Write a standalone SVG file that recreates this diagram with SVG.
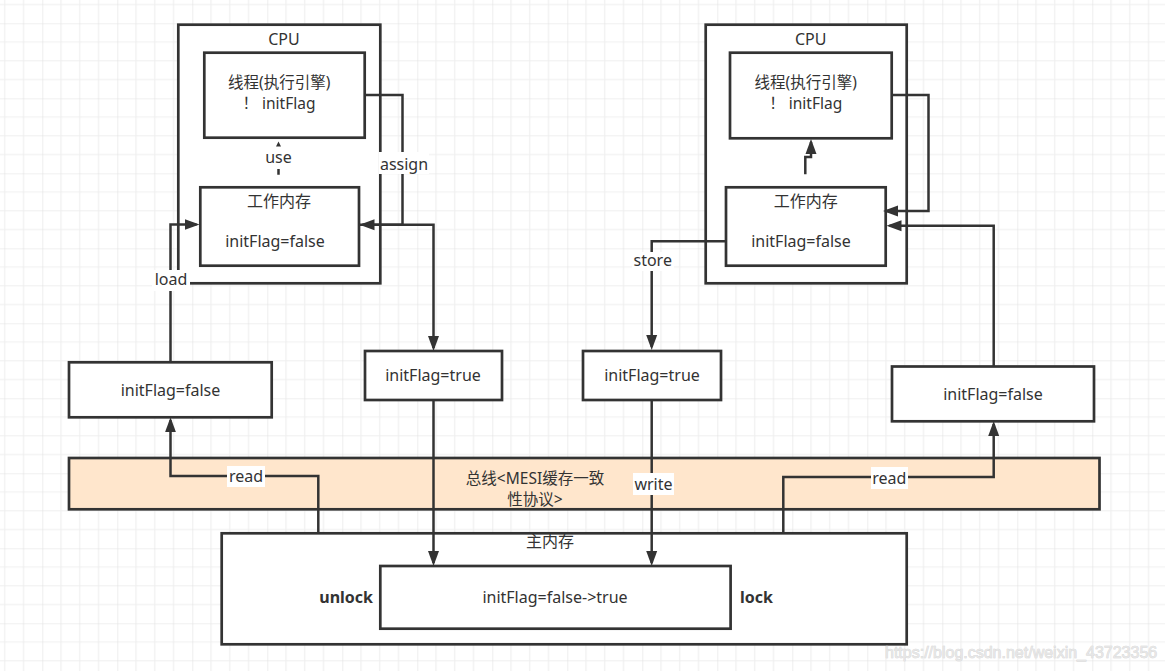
<svg xmlns="http://www.w3.org/2000/svg" width="1165" height="671" viewBox="0 0 1165 671">
  <defs>
    <pattern id="grid" patternUnits="userSpaceOnUse" x="42.3" y="23.3" width="75" height="75">
      <path d="M18.75 0V75M37.5 0V75M56.25 0V75M0 18.75H75M0 37.5H75M0 56.25H75" stroke="#efefef" stroke-width="1.2" fill="none"/>
      <path d="M0 0V75M0 0H75" stroke="#e2e2e2" stroke-width="1.2" fill="none"/>
    </pattern>
    <marker id="arr" markerUnits="userSpaceOnUse" markerWidth="16" markerHeight="12" refX="12" refY="6" orient="auto">
      <path d="M0 0.5L15 6L0 11.5Z" fill="#333333"/>
    </marker>
    <marker id="arrs" markerUnits="userSpaceOnUse" markerWidth="6" markerHeight="6" refX="4" refY="3" orient="auto">
      <path d="M0 0.5L5 3L0 5.5Z" fill="#333333"/>
    </marker>
  </defs>
  <style>
    .box { fill: #ffffff; stroke: #333333; stroke-width: 2.7; }
    .bus { fill: #ffe6cc; stroke: #333333; stroke-width: 2.7; }
    .t { font-family: "Noto Sans", "Noto Sans CJK SC", sans-serif; font-size: 16px; fill: #333333; text-anchor: middle; }
    .m { font-size: 15.5px; }
    .b { font-weight: bold; }
    .c { fill: none; stroke: #333333; stroke-width: 2.5; marker-end: url(#arr); }
    .lbg { fill: #ffffff; }
    .wm { font-family: "Liberation Sans", Arial, sans-serif; font-size: 16px; fill: #e6e6e6; stroke: #d0d0d0; stroke-width: 0.6; paint-order: stroke; }
  </style>

  <rect x="0" y="0" width="1165" height="671" fill="#ffffff"/>
  <rect x="0" y="0" width="1165" height="671" fill="url(#grid)"/>

  <g id="bus">
    <rect class="bus" x="69" y="458" width="1030.5" height="51.3"/>
    <text class="t m" x="535" y="484">总线&lt;MESI缓存一致<tspan x="535" y="505">性协议&gt;</tspan></text>
  </g>

  <g id="cpu-left">
    <rect class="box" x="178.3" y="24.7" width="202" height="258.6"/>
    <text class="t" x="284" y="44.5">CPU</text>
  </g>
  <g id="thread-left">
    <rect class="box" x="204.3" y="52.7" width="160.4" height="85"/>
    <text class="t m" x="279.2" y="87.5">线程(执行引擎)<tspan x="279" y="108.5">！ initFlag</tspan></text>
  </g>
  <g id="workmem-left">
    <rect class="box" x="200.3" y="187.3" width="158.7" height="78.4"/>
    <text class="t" x="279" y="207">工作内存</text>
    <text class="t" x="275" y="246.7">initFlag=false</text>
  </g>

  <g id="cpu-right">
    <rect class="box" x="705.7" y="24.7" width="201" height="258.6"/>
    <text class="t" x="810.7" y="44.5">CPU</text>
  </g>
  <g id="thread-right">
    <rect class="box" x="730" y="52.7" width="161.7" height="85.6"/>
    <text class="t m" x="805.7" y="87.5">线程(执行引擎)<tspan x="805.7" y="108.5">！ initFlag</tspan></text>
  </g>
  <g id="workmem-right">
    <rect class="box" x="726" y="187.3" width="159.7" height="78.4"/>
    <text class="t" x="805.7" y="207">工作内存</text>
    <text class="t" x="801" y="246.7">initFlag=false</text>
  </g>

  <g id="bus-left-false">
    <rect class="box" x="69" y="362.3" width="202.7" height="55"/>
    <text class="t" x="170.5" y="395.7">initFlag=false</text>
  </g>
  <g id="bus-left-true">
    <rect class="box" x="365" y="351" width="137" height="49"/>
    <text class="t" x="433" y="380.7">initFlag=true</text>
  </g>
  <g id="bus-right-true">
    <rect class="box" x="583" y="351" width="138" height="49"/>
    <text class="t" x="652" y="381">initFlag=true</text>
  </g>
  <g id="bus-right-false">
    <rect class="box" x="892" y="366.5" width="202" height="54.8"/>
    <text class="t" x="993" y="400">initFlag=false</text>
  </g>

  <g id="main-memory">
    <rect class="box" x="221.7" y="533.3" width="685" height="111"/>
    <text class="t" x="550" y="547">主内存</text>
    <text class="t b" x="373" y="602.5" style="text-anchor:end">unlock</text>
    <text class="t b" x="740" y="602.5" style="text-anchor:start">lock</text>
  </g>
  <g id="main-var">
    <rect class="box" x="380.3" y="566" width="350.3" height="62.7"/>
    <text class="t" x="555" y="603">initFlag=false-&gt;true</text>
  </g>

  <g id="connectors">
    <path d="M278.5 187.3V142.5" fill="none" stroke="#333333" stroke-width="2.5" stroke-dasharray="0 12.5 6 60" marker-end="url(#arrs)"/>
    <path class="c" d="M364.7 95H402.5V224.7H362.5"/>
    <path class="c" d="M359 224.7H433.5V348"/>
    <path class="c" d="M170.5 362.3V224.5H196.5"/>
    <path class="c" d="M318.3 533.3V476H170.5V420.3"/>
    <path class="c" d="M433.5 400V563"/>
    <path class="c" d="M805.3 174.3V157H811V142"/>
    <path class="c" d="M891.7 95H928.5V211H886"/>
    <path class="c" d="M993.7 366.5V225.7H889.5"/>
    <path class="c" d="M725.7 241.3H651.7V347"/>
    <path class="c" d="M651.7 400V563"/>
    <path class="c" d="M783.3 533.3V477H993.7V424"/>

    <rect class="lbg" x="263" y="149" width="31" height="20"/>
    <text class="t" x="278.5" y="163">use</text>
    <rect class="lbg" x="379" y="152" width="50" height="22"/>
    <text class="t" x="404" y="170">assign</text>
    <rect class="lbg" x="152" y="270" width="38" height="21"/>
    <text class="t" x="171" y="285">load</text>
    <rect class="lbg" x="632" y="252" width="42" height="19"/>
    <text class="t" x="652.7" y="265.7">store</text>
    <rect class="lbg" x="227" y="466" width="38" height="21"/>
    <text class="t" x="246" y="482.3">read</text>
    <rect class="lbg" x="633" y="473" width="41" height="22"/>
    <text class="t" x="653.5" y="490">write</text>
    <rect class="lbg" x="871" y="467" width="37" height="22"/>
    <text class="t" x="889.3" y="484">read</text>
  </g>

  <text class="wm" x="885" y="658">https://blog.csdn.net/weixin_43723356</text>
</svg>
